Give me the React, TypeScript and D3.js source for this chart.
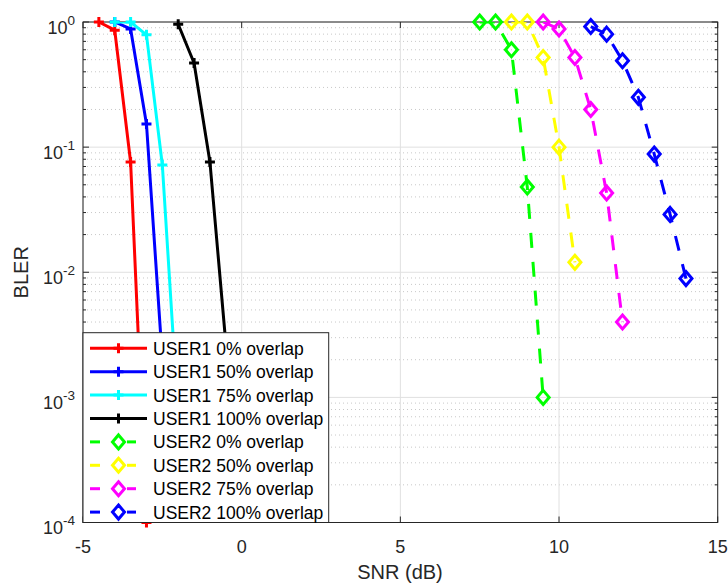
import React from "react";
import * as d3 from "d3";

const snrU1_0 = [-4.5, -4, -3.5, -3];
const blerU1_0 = [1.0, 0.86, 0.076, 1e-4];
const snrU1_50 = [-4, -3.5, -3, -2.5];
const blerU1_50 = [1.0, 0.88, 0.153, 2e-3];
const snrU1_75 = [-4, -3.5, -3, -2.5, -2];
const blerU1_75 = [1.0, 1.0, 0.79, 0.072, 7e-4];
const snrU1_100 = [-2, -1.5, -1, -0.5];
const blerU1_100 = [0.96, 0.47, 0.076, 2.7e-3];

const snrU2_0 = [7.5, 8, 8.5, 9, 9.5];
const blerU2_0 = [1.0, 1.0, 0.6, 0.048, 1e-3];
const snrU2_50 = [8.5, 9, 9.5, 10, 10.5];
const blerU2_50 = [1.0, 1.0, 0.52, 0.1, 0.012];
const snrU2_75 = [9.5, 10, 10.5, 11, 11.5, 12];
const blerU2_75 = [1.0, 0.88, 0.52, 0.2, 0.043, 0.004];
const snrU2_100 = [11, 11.5, 12, 12.5, 13, 13.5, 14];
const blerU2_100 = [0.92, 0.8, 0.49, 0.25, 0.088, 0.029, 0.0089];

const seriesNames = [
  "USER1 0% overlap",
  "USER1 50% overlap",
  "USER1 75% overlap",
  "USER1 100% overlap",
  "USER2 0% overlap",
  "USER2 50% overlap",
  "USER2 75% overlap",
  "USER2 100% overlap",
];
const seriesColors = ["#ff0000", "#0000ff", "#00ffff", "#000000", "#00ff00", "#ffff00", "#ff00ff", "#0000ff"];
const seriesX = [snrU1_0, snrU1_50, snrU1_75, snrU1_100, snrU2_0, snrU2_50, snrU2_75, snrU2_100];
const seriesY = [blerU1_0, blerU1_50, blerU1_75, blerU1_100, blerU2_0, blerU2_50, blerU2_75, blerU2_100];

const xTicks = [-5, 0, 5, 10, 15];
const yExps = [0, -1, -2, -3, -4];
const xLabel = "SNR (dB)";
const yLabel = "BLER";

const W = 728, H = 583;
const L = 83, R = 717.7, T = 22, B = 522.5;
const AX = "#262626";

export default function App() {
  const x = d3.scaleLinear().domain([-5, 15]).range([L, R]);
  const y = d3.scaleLog().domain([1e-4, 1]).range([B, T]);
  const line = d3.line<[number, number]>().x((d) => x(d[0])).y((d) => y(d[1]));

  const minors: number[] = [];
  for (let e = -4; e < 0; e++) for (let m = 2; m <= 9; m++) minors.push(m * Math.pow(10, e));

  const plus = (cx: number, cy: number, c: string, k: string) => (
    <path key={k} d={`M${cx - 5},${cy}H${cx + 5}M${cx},${cy - 5}V${cy + 5}`} stroke={c} strokeWidth={3} fill="none" />
  );
  const diamond = (cx: number, cy: number, c: string, k: string) => (
    <path key={k} d={`M${cx},${cy - 7}L${cx + 6},${cy}L${cx},${cy + 7}L${cx - 6},${cy}Z`} stroke={c} strokeWidth={3} fill="none" strokeLinejoin="miter" />
  );

  const legL = L, legR = 328.7, legT = 332.7, legB = B;
  const rowY0 = 348.3, rowStep = 23.4;

  return (
    <svg width={W} height={H} style={{ position: "absolute", left: 0, top: 0, background: "#fff" }} fontFamily="'Liberation Sans', Arial, sans-serif">
      <defs>
        <clipPath id="plotclip">
          <rect x={L} y={T} width={R - L} height={B - T} />
        </clipPath>
      </defs>
      <rect x={0} y={0} width={W} height={H} fill="#fff" />
      {/* minor grid */}
      {minors.map((v, i) => (
        <line key={"mg" + i} x1={L} x2={R} y1={y(v)} y2={y(v)} stroke="#c8c8c8" strokeWidth={1} strokeDasharray="1,3" />
      ))}
      {/* major grid */}
      {xTicks.map((v) => (
        <line key={"gx" + v} x1={x(v)} x2={x(v)} y1={T} y2={B} stroke="#e0e0e0" strokeWidth={1} />
      ))}
      {yExps.map((e) => (
        <line key={"gy" + e} x1={L} x2={R} y1={y(Math.pow(10, e))} y2={y(Math.pow(10, e))} stroke="#e0e0e0" strokeWidth={1} />
      ))}
      {/* axes box */}
      <rect x={L} y={T} width={R - L} height={B - T} fill="none" stroke={AX} strokeWidth={1} />
      {xTicks.map((v) => (
        <g key={"xt" + v}>
          <line x1={x(v)} x2={x(v)} y1={B} y2={B - 6} stroke={AX} />
          <line x1={x(v)} x2={x(v)} y1={T} y2={T + 6} stroke={AX} />
          <text x={x(v)} y={B + 30} textAnchor="middle" fontSize={18} fill={AX}>{v}</text>
        </g>
      ))}
      {yExps.map((e) => {
        const yy = y(Math.pow(10, e));
        return (
          <g key={"yt" + e}>
            <line x1={L} x2={L + 6} y1={yy} y2={yy} stroke={AX} />
            <line x1={R} x2={R - 6} y1={yy} y2={yy} stroke={AX} />
            <text x={L - 8} y={yy + 11.5} textAnchor="end" fontSize={18} fill={AX}>
              10<tspan fontSize={13.5} dy={-9}>{e}</tspan>
            </text>
          </g>
        );
      })}
      {minors.map((v, i) => (
        <g key={"mt" + i}>
          <line x1={L} x2={L + 3} y1={y(v)} y2={y(v)} stroke={AX} />
          <line x1={R} x2={R - 3} y1={y(v)} y2={y(v)} stroke={AX} />
        </g>
      ))}
      <text x={400} y={B + 56} textAnchor="middle" fontSize={20} fill={AX}>{xLabel}</text>
      <text transform={`translate(28,${(T + B) / 2}) rotate(-90)`} textAnchor="middle" fontSize={20} fill={AX}>{yLabel}</text>

      {/* series */}
      {seriesX.map((xs, si) => {
        const pts: [number, number][] = xs.map((v, i) => [v, seriesY[si][i]]);
        const dashed = si >= 4;
        const c = seriesColors[si];
        return (
          <g key={"s" + si}>
            <path d={line(pts) || ""} fill="none" stroke={c} strokeWidth={3} strokeDasharray={dashed ? "15,14" : undefined} clipPath="url(#plotclip)" strokeLinejoin="round" />
            {pts.map((p, i) => (dashed ? diamond(x(p[0]), y(p[1]), c, "m" + i) : plus(x(p[0]), y(p[1]), c, "m" + i)))}
          </g>
        );
      })}

      {/* legend */}
      <rect x={legL} y={legT} width={legR - legL} height={legB - legT} fill="#fff" stroke={AX} strokeWidth={1} />
      {seriesNames.map((name, i) => {
        const cy = rowY0 + i * rowStep;
        const c = seriesColors[i];
        const dashed = i >= 4;
        return (
          <g key={"lg" + i}>
            {dashed ? (
              <g>
                <line x1={90} x2={100} y1={cy} y2={cy} stroke={c} strokeWidth={3} />
                <line x1={127} x2={136} y1={cy} y2={cy} stroke={c} strokeWidth={3} />
                {diamond(118.5, cy, c, "ld")}
              </g>
            ) : (
              <g>
                <line x1={90} x2={147} y1={cy} y2={cy} stroke={c} strokeWidth={3} />
                {plus(118.5, cy, c, "lp")}
              </g>
            )}
            <text x={153} y={cy + 6.5} fontSize={17.5} fill="#000">{name}</text>
          </g>
        );
      })}
    </svg>
  );
}
